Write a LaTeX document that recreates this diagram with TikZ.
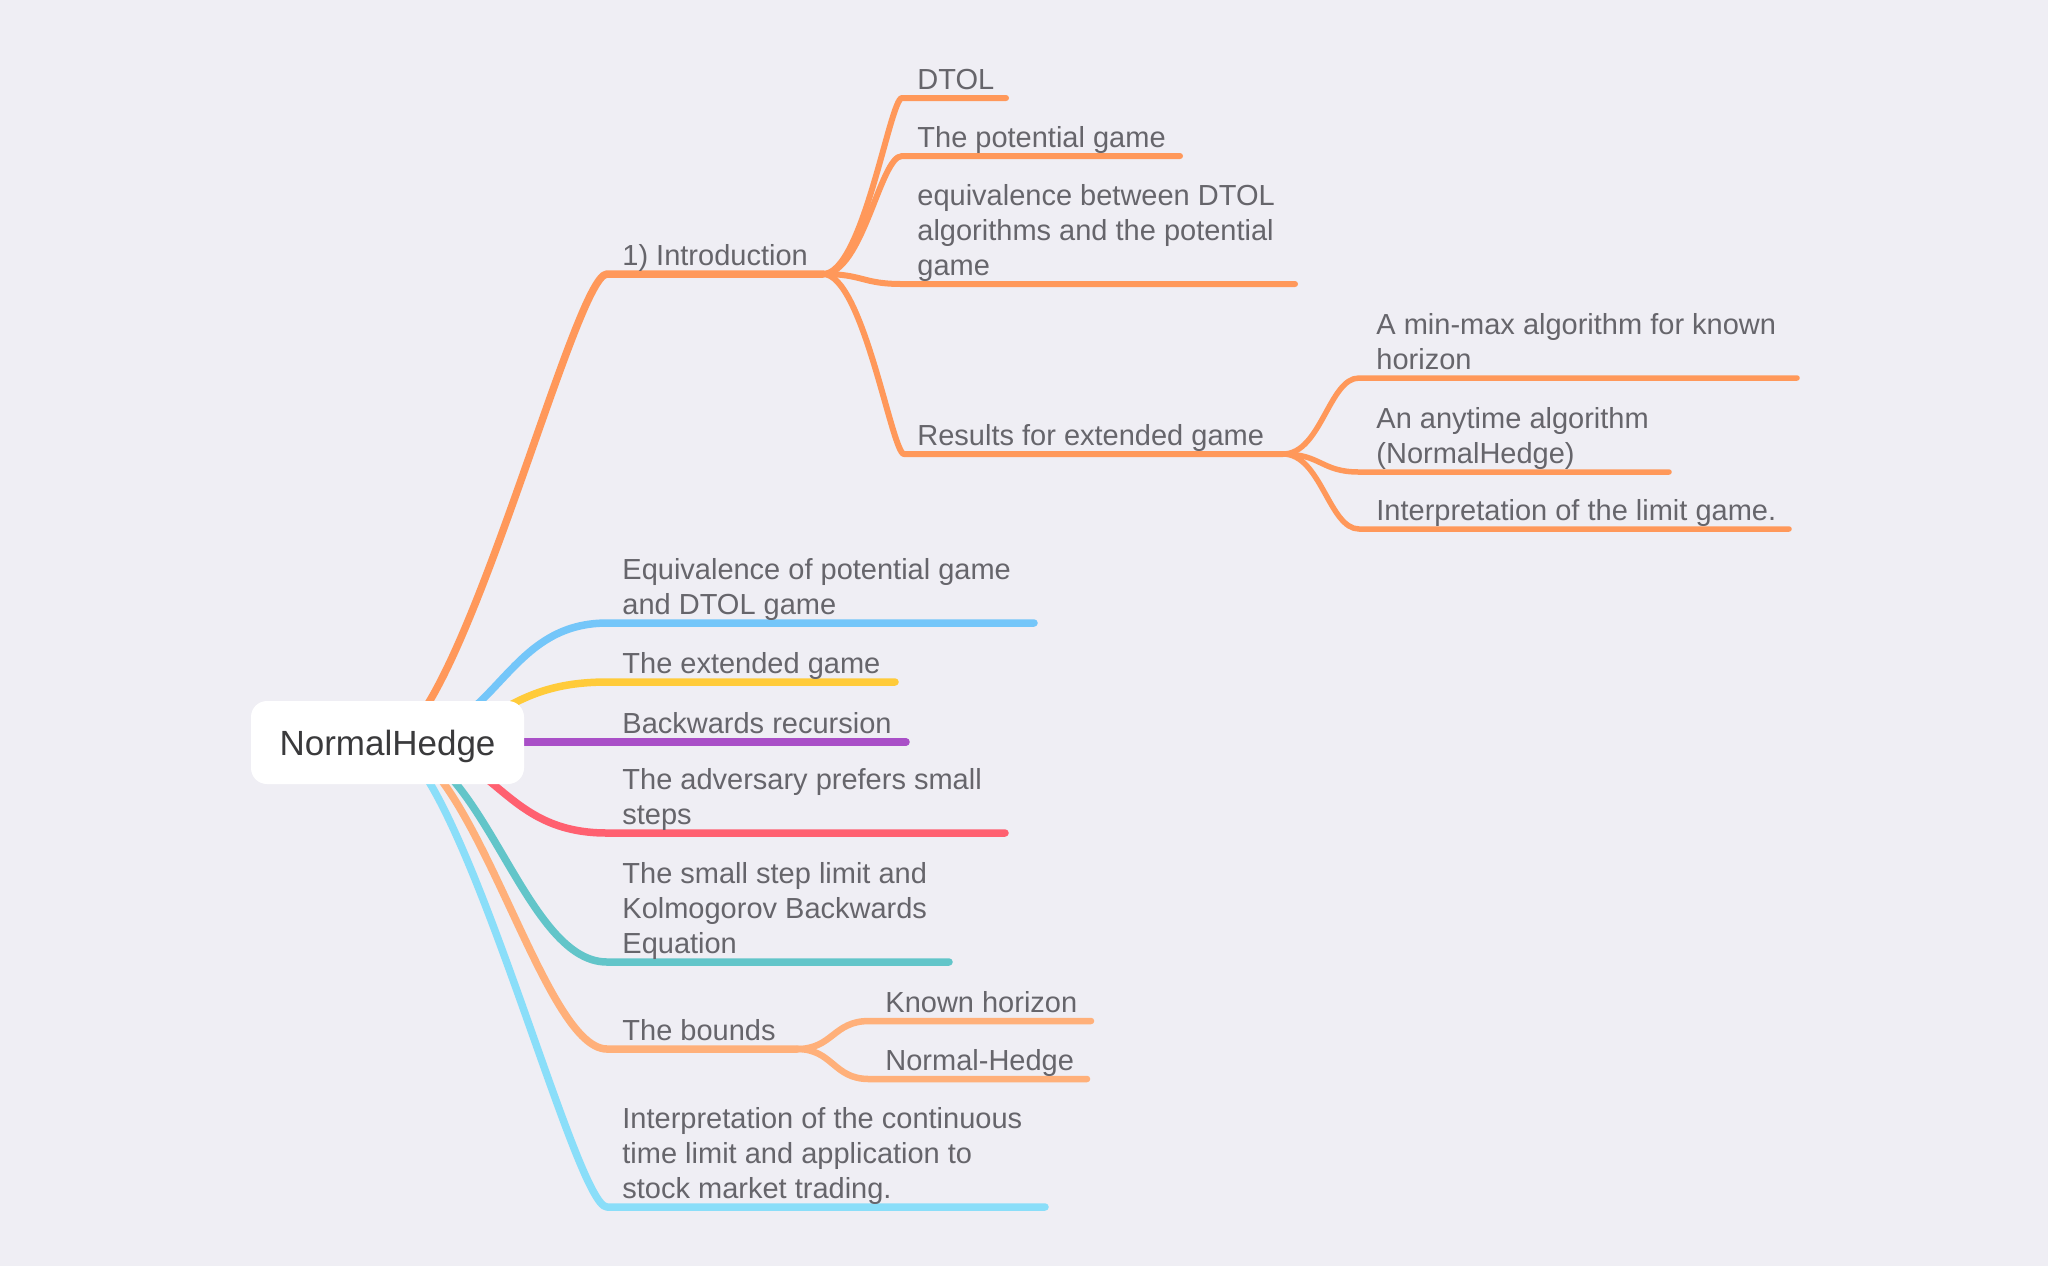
\documentclass[tikz,border=0pt]{standalone}
\usepackage{fontspec}
\setmainfont{Liberation Sans}
\usetikzlibrary{calc}
\definecolor{bgc}{HTML}{EFEEF4}
\definecolor{txtc}{HTML}{66656B}
\definecolor{rootc}{HTML}{3A3A3C}
\definecolor{corange}{HTML}{FF985A}
\definecolor{cblue}{HTML}{74C6F9}
\definecolor{cyellow}{HTML}{FFCB3A}
\definecolor{cpurple}{HTML}{A94FC7}
\definecolor{cred}{HTML}{FF6070}
\definecolor{cteal}{HTML}{62C5C9}
\definecolor{clorange}{HTML}{FFB07A}
\definecolor{ccyan}{HTML}{8ADEF9}
\newcommand{\mlines}[1]{\begin{tabular}[b]{@{}l@{}}#1\end{tabular}}
\begin{document}
\begin{tikzpicture}[x=0.5pt,y=-0.5pt,
  lbl/.style={anchor=base west, inner sep=0pt, text=txtc, font=\fontsize{14.5}{17.5}\selectfont},
  bone/.style={line width=3.75pt, line cap=round, line join=round},
  btwo/.style={line width=3pt, line cap=round, line join=round},
  bthree/.style={line width=2.75pt, line cap=round, line join=round},
  bsub/.style={line width=3.25pt, line cap=round, line join=round},
  rootbox/.style={fill=white, rounded corners=8pt, minimum width=136.5pt, minimum height=41.5pt, inner sep=0pt, text depth=0pt, text=rootc, font=\fontsize{17.5}{21}\selectfont}]
\useasboundingbox (0,0) rectangle (2048,1266);
\fill[bgc] (0,0) rectangle (2048,1266);
% coordinates
\coordinate (rc) at (387.5,742);
\coordinate (introS) at (607,274); \coordinate (J1) at (823,274);
\coordinate (equivS) at (607,623); \coordinate (equivE) at (1034,623);
\coordinate (extS) at (607,682); \coordinate (extE) at (895,682);
\coordinate (backE) at (906,742);
\coordinate (advS) at (607,833); \coordinate (advE) at (1005,833);
\coordinate (smallS) at (607,962); \coordinate (smallE) at (949,962);
\coordinate (boundS) at (607,1049); \coordinate (J2) at (797,1049);
\coordinate (contS) at (607,1207); \coordinate (contE) at (1045,1207);
\coordinate (dtolS) at (902,98); \coordinate (dtolE) at (1006,98);
\coordinate (potS) at (902,156); \coordinate (potE) at (1180,156);
\coordinate (eqbS) at (902,284); \coordinate (eqbE) at (1295,284);
\coordinate (resS) at (904,454); \coordinate (J3) at (1283,454);
\coordinate (mmS) at (1359,378); \coordinate (mmE) at (1797,378);
\coordinate (anyS) at (1359,472); \coordinate (anyE) at (1669,472);
\coordinate (limS) at (1359,529); \coordinate (limE) at (1789,529);
\coordinate (khS) at (869,1021); \coordinate (khE) at (1091,1021);
\coordinate (nhS) at (869,1079); \coordinate (nhE) at (1087,1079);
% level 1 connectors
\draw[bone,corange] (rc) .. controls +(70,0) and +(-33,0) .. (introS) -- (J1);
\draw[bone,cblue] (rc) .. controls +(110,0) and +(-106,0) .. (equivS) -- (equivE);
\draw[bone,cyellow] (rc) .. controls +(110,0) and +(-110,0) .. (extS) -- (extE);
\draw[bone,cpurple] (rc) -- (backE);
\draw[bone,cred] (rc) .. controls +(110,0) and +(-110,0) .. (advS) -- (advE);
\draw[bone,cteal] (rc) .. controls +(95,0) and +(-85,0) .. (smallS) -- (smallE);
\draw[bone,clorange] (rc) .. controls +(85,0) and +(-66,0) .. (boundS) -- (J2);
\draw[bone,ccyan] (rc) .. controls +(70,0) and +(-33,0) .. (contS) -- (contE);
% level 2 connectors
\draw[btwo,corange] (J1) .. controls +(40,0) and +(-12,0) .. (dtolS) -- (dtolE);
\draw[btwo,corange] (J1) .. controls +(40,0) and +(-22,0) .. (potS) -- (potE);
\draw[btwo,corange] (J1) .. controls +(40,0) and +(-40,0) .. (eqbS) -- (eqbE);
\draw[btwo,corange] (J1) .. controls +(40,0) and +(-12,0) .. (resS) -- (J3);
\draw[bthree,corange] (J3) .. controls +(38,0) and +(-30,0) .. (mmS) -- (mmE);
\draw[bthree,corange] (J3) .. controls +(38,0) and +(-38,0) .. (anyS) -- (anyE);
\draw[bthree,corange] (J3) .. controls +(38,0) and +(-30,0) .. (limS) -- (limE);
\draw[bsub,clorange] (J2) .. controls +(36,0) and +(-36,0) .. (khS) -- (khE);
\draw[bsub,clorange] (J2) .. controls +(36,0) and +(-36,0) .. (nhS) -- (nhE);
% root
\node[rootbox] (root) at (387.5,742.5) {NormalHedge};
% labels
\node[lbl] (tintro) at ($(introS)+(15,-9)$) {1) Introduction};
\node[lbl] (tequiv) at ($(equivS)+(15,-9)$) {\mlines{Equivalence of potential game\\and DTOL game}};
\node[lbl] (text) at ($(extS)+(15,-9)$) {The extended game};
\node[lbl] (tback) at (622,733) {Backwards recursion};
\node[lbl] (tadv) at ($(advS)+(15,-9)$) {\mlines{The adversary prefers small\\steps}};
\node[lbl] (tsmall) at ($(smallS)+(15,-9)$) {\mlines{The small step limit and\\Kolmogorov Backwards\\Equation}};
\node[lbl] (tbound) at ($(boundS)+(15,-9)$) {The bounds};
\node[lbl] (tcont) at ($(contS)+(15,-9)$) {\mlines{Interpretation of the continuous\\time limit and application to\\stock market trading.}};
\node[lbl] (tdtol) at ($(dtolS)+(15,-9)$) {DTOL};
\node[lbl] (tpot) at ($(potS)+(15,-9)$) {The potential game};
\node[lbl] (teqb) at ($(eqbS)+(15,-9)$) {\mlines{equivalence between DTOL\\algorithms and the potential\\game}};
\node[lbl] (tres) at ($(resS)+(13,-9)$) {Results for extended game};
\node[lbl] (tmm) at ($(mmS)+(17,-9)$) {\mlines{A min-max algorithm for known\\horizon}};
\node[lbl] (tany) at ($(anyS)+(17,-9)$) {\mlines{An anytime algorithm\\(NormalHedge)}};
\node[lbl] (tlim) at ($(limS)+(17,-9)$) {Interpretation of the limit game.};
\node[lbl] (tkh) at ($(khS)+(16,-9)$) {Known horizon};
\node[lbl] (tnh) at ($(nhS)+(16,-9)$) {Normal-Hedge};
\end{tikzpicture}
\end{document}
